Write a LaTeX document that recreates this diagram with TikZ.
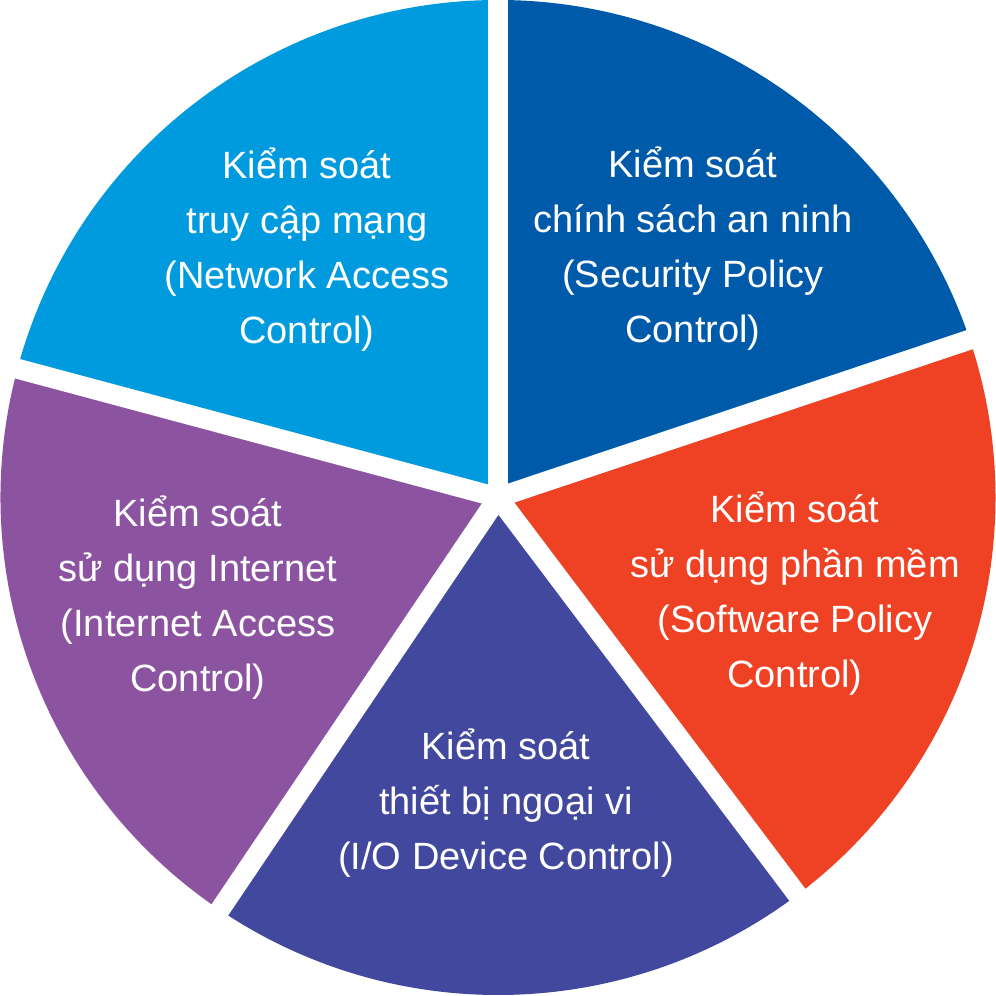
\documentclass[tikz,border=0pt]{standalone}
\usepackage{fontspec}
\setmainfont{Liberation Sans}
\definecolor{cLight}{RGB}{0,155,222}
\definecolor{cDark}{RGB}{0,90,170}
\definecolor{cOrange}{RGB}{239,65,35}
\definecolor{cIndigo}{RGB}{66,72,157}
\definecolor{cPurple}{RGB}{140,84,160}
\begin{document}
\begin{tikzpicture}[x=1pt,y=1pt,
  sliceLabel/.style={text=white, align=center, inner sep=0pt, anchor=base,
    font=\fontsize{38}{55}\selectfont},
  gapLine/.style={white, line width=20pt}]
\useasboundingbox[fill=white] (0,0) rectangle (996,996);
\coordinate (C) at (498,498.5);
\def\R{497.5}
% sectors
\fill[cDark]   (C) -- ++(90:\R)   arc[start angle=90,   end angle=18.5, radius=\R] -- cycle;
\fill[cOrange] (C) -- ++(18.5:\R) arc[start angle=18.5, end angle=-53,  radius=\R] -- cycle;
\fill[cIndigo] (C) -- ++(-53:\R)  arc[start angle=-53,  end angle=-124, radius=\R] -- cycle;
\fill[cPurple] (C) -- ++(-124:\R) arc[start angle=-124, end angle=-195, radius=\R] -- cycle;
\fill[cLight]  (C) -- ++(165:\R)  arc[start angle=165,  end angle=90,   radius=\R] -- cycle;
% white gaps
\foreach \a in {90,18.5,-53,-124,165}
  \draw[gapLine] (C) -- ++(\a:\R+12);
% labels (anchor=base is the baseline of the last line)
\node[sliceLabel] (nac) at (307,652) {Kiểm soát\\truy cập mạng\\(Network Access\\Control)};
\node[sliceLabel] (spc) at (693,653) {Kiểm soát\\chính sách an ninh\\(Security Policy\\Control)};
\node[sliceLabel] (iac) at (198,304) {Kiểm soát\\sử dụng Internet\\(Internet Access\\Control)};
\node[sliceLabel] (swc) at (795,308) {Kiểm soát\\sử dụng phần mềm\\(Software Policy\\Control)};
\node[sliceLabel] (ioc) at (506,126) {Kiểm soát\\thiết bị ngoại vi\\(I/O Device Control)};
\end{tikzpicture}
\end{document}
